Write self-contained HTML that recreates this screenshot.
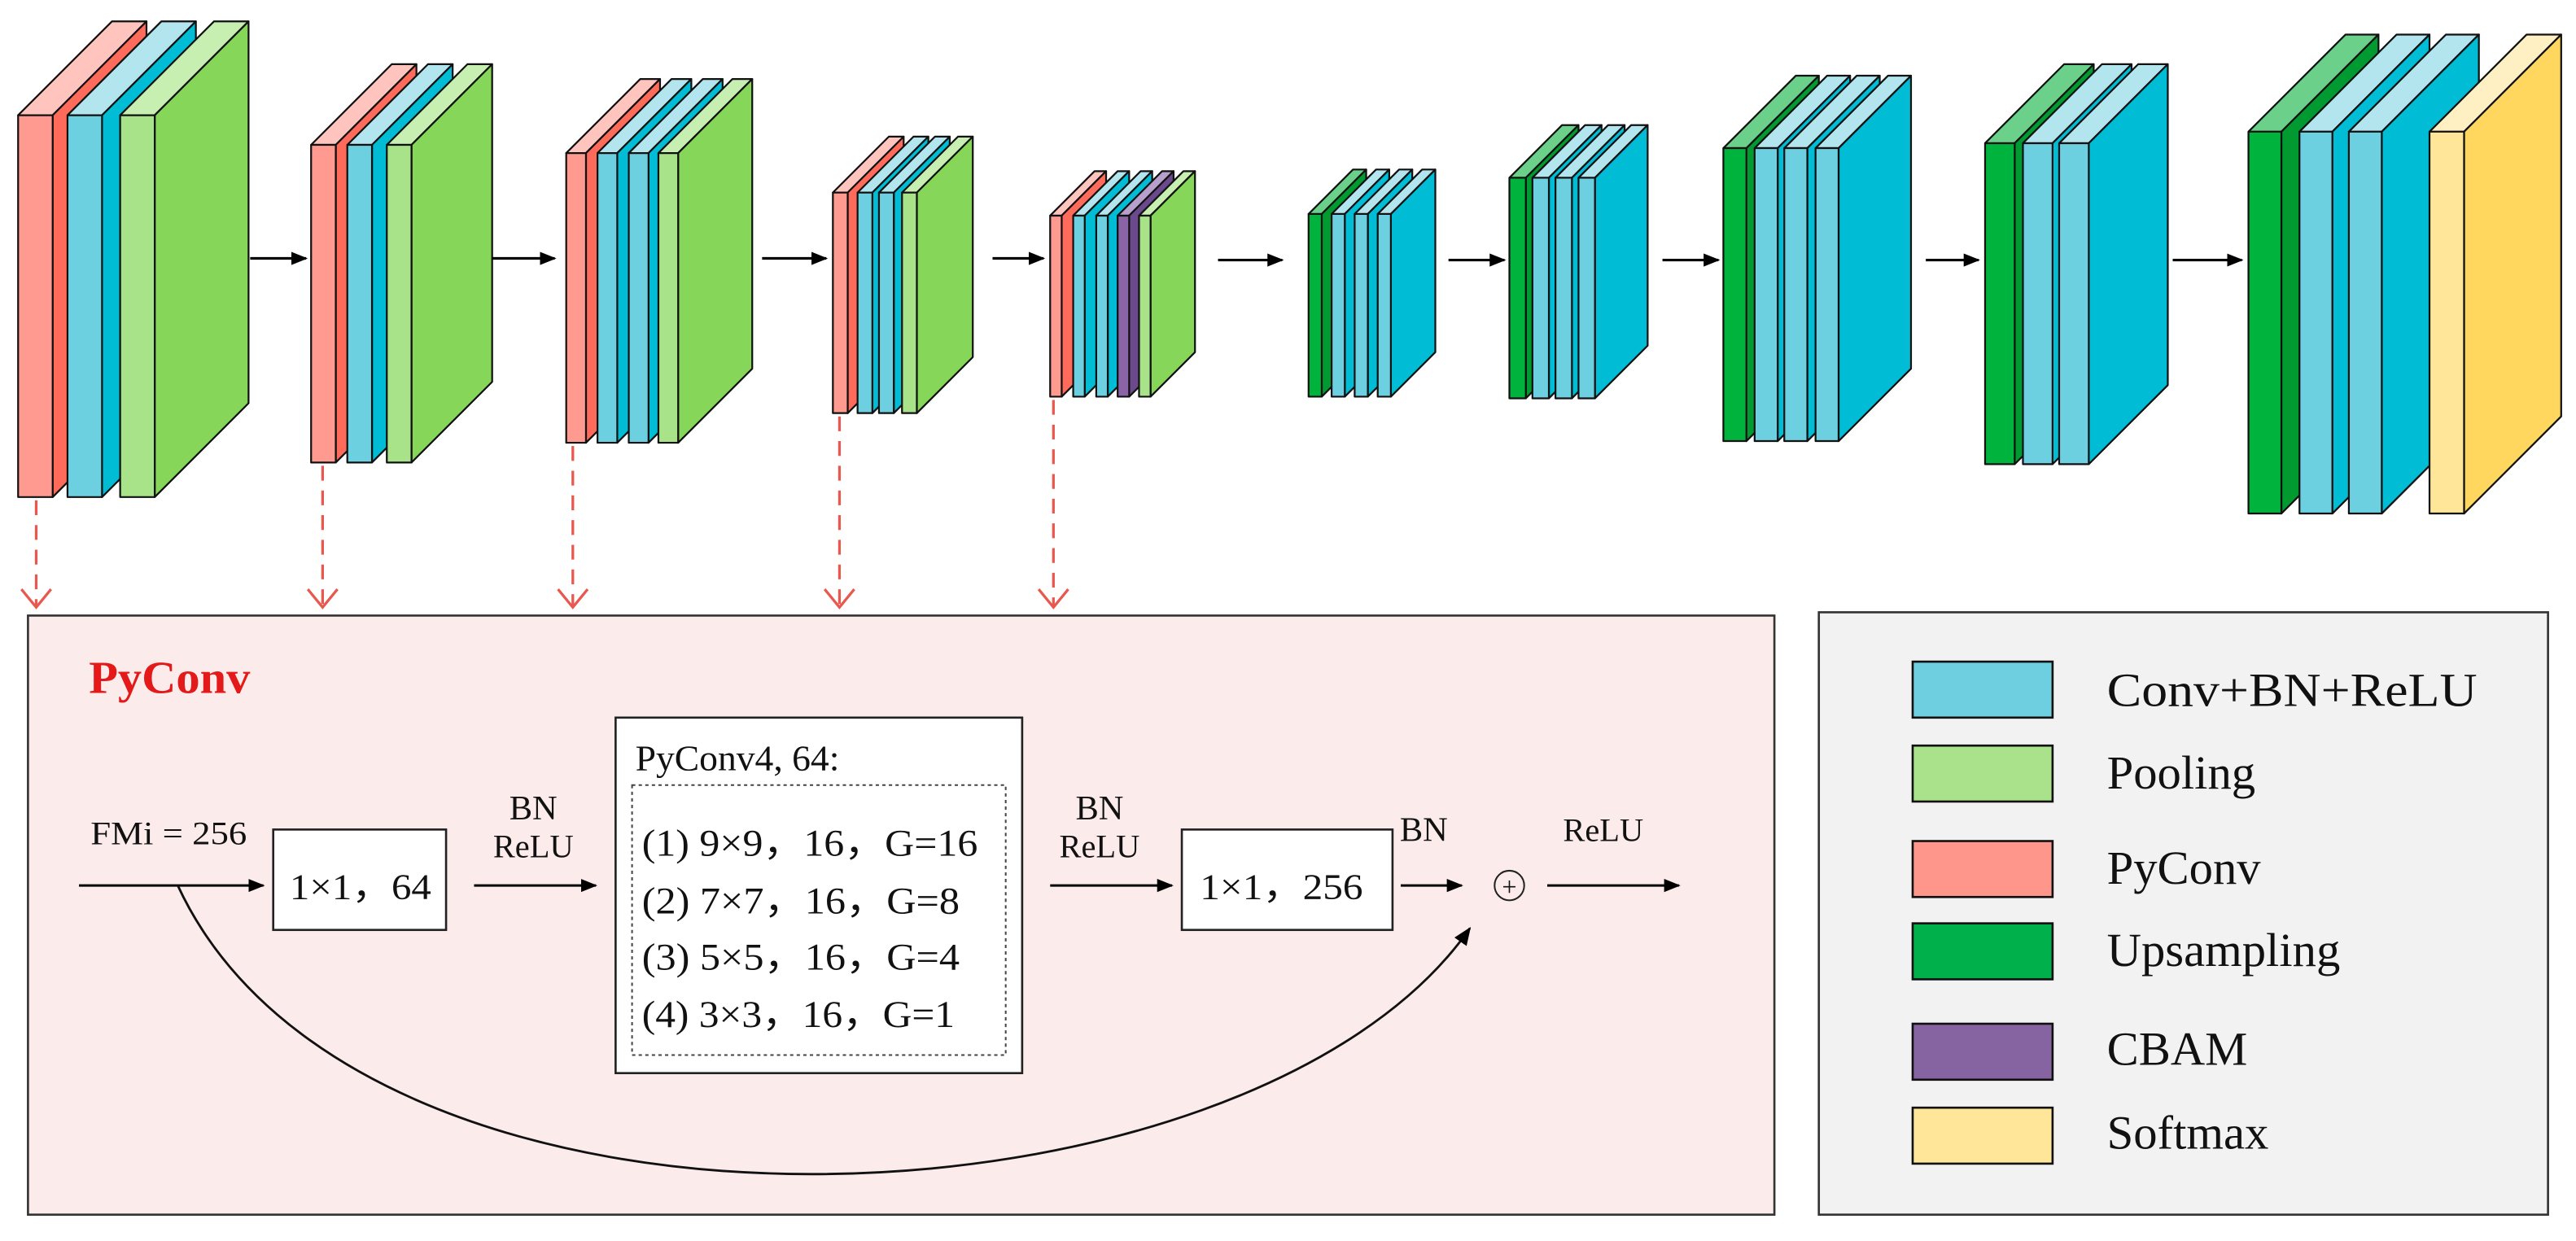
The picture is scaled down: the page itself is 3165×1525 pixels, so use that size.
<!DOCTYPE html>
<html><head><meta charset="utf-8"><style>
html,body{margin:0;padding:0;background:#fff;}
svg{display:block;}
text{font-family:"Liberation Serif",serif;fill:#111;}
</style></head><body>
<svg id="s" width="3165" height="1525" viewBox="0 0 1565 754" preserveAspectRatio="none" xmlns="http://www.w3.org/2000/svg">
<defs>
<marker id="ah" markerWidth="10" markerHeight="10" refX="9" refY="5" orient="auto" markerUnits="userSpaceOnUse">
<path d="M0,1 L10,5 L0,9 Z" fill="#000"/></marker>
<marker id="ah2" markerWidth="12" markerHeight="12" refX="10" refY="6" orient="auto" markerUnits="userSpaceOnUse">
<path d="M0,1.5 L11,6 L0,10.5 Z" fill="#000"/></marker>
</defs>
<g id="blocks"></g>
<g stroke="#000" stroke-width="1.6" marker-end="url(#ah)">
<line x1="152" y1="157" x2="186" y2="157"/>
<line x1="299" y1="157" x2="337" y2="157"/>
<line x1="463" y1="157" x2="502" y2="157"/>
<line x1="603" y1="157" x2="634" y2="157"/>
<line x1="740" y1="158" x2="779" y2="158"/>
<line x1="880" y1="158" x2="914" y2="158"/>
<line x1="1010" y1="158" x2="1044" y2="158"/>
<line x1="1170" y1="158" x2="1202" y2="158"/>
<line x1="1320" y1="158" x2="1362" y2="158"/>
</g>
<g stroke="#E8584E" stroke-width="1.6" fill="none">
<line x1="22" y1="304" x2="22" y2="368" stroke-dasharray="9,6"/>
<polyline points="13,358 22,369 31,358"/>
<line x1="196" y1="283" x2="196" y2="368" stroke-dasharray="9,6"/>
<polyline points="187,358 196,369 205,358"/>
<line x1="348" y1="271" x2="348" y2="368" stroke-dasharray="9,6"/>
<polyline points="339,358 348,369 357,358"/>
<line x1="510" y1="253" x2="510" y2="368" stroke-dasharray="9,6"/>
<polyline points="501,358 510,369 519,358"/>
<line x1="640" y1="243" x2="640" y2="368" stroke-dasharray="9,6"/>
<polyline points="631,358 640,369 649,358"/>
</g>
<rect x="17" y="374" width="1061" height="364" fill="#FBECEB" stroke="#333" stroke-width="1.3"/>
<text x="54" y="421" font-size="28" font-weight="bold" textLength="98" lengthAdjust="spacingAndGlyphs" style="fill:#E41A1A">PyConv</text>
<text x="55" y="513" font-size="20" textLength="95" lengthAdjust="spacingAndGlyphs">FMi = 256</text>
<line x1="48" y1="538" x2="160" y2="538" stroke="#000" stroke-width="1.5" marker-end="url(#ah)"/>
<rect x="166" y="504" width="105" height="61" fill="#fff" stroke="#222" stroke-width="1.3"/>
<text x="176" y="546" font-size="22" textLength="86" lengthAdjust="spacingAndGlyphs">1×1，64</text>
<text x="324" y="498" font-size="21" text-anchor="middle">BN</text>
<text x="324" y="521" font-size="20" text-anchor="middle">ReLU</text>
<line x1="288" y1="538" x2="362" y2="538" stroke="#000" stroke-width="1.5" marker-end="url(#ah)"/>
<rect x="374" y="436" width="247" height="216" fill="#fff" stroke="#222" stroke-width="1.3"/>
<text x="386" y="468" font-size="22" textLength="124" lengthAdjust="spacingAndGlyphs">PyConv4, 64:</text>
<rect x="384" y="477" width="227" height="164" fill="#fff" stroke="#444" stroke-width="1" stroke-dasharray="2,2"/>
<text x="390" y="520" font-size="23" textLength="204" lengthAdjust="spacingAndGlyphs">(1) 9×9，16，G=16</text>
<text x="390" y="555" font-size="23" textLength="193" lengthAdjust="spacingAndGlyphs">(2) 7×7，16，G=8</text>
<text x="390" y="589" font-size="23" textLength="193" lengthAdjust="spacingAndGlyphs">(3) 5×5，16，G=4</text>
<text x="390" y="624" font-size="23" textLength="190" lengthAdjust="spacingAndGlyphs">(4) 3×3，16，G=1</text>
<text x="668" y="498" font-size="21" text-anchor="middle">BN</text>
<text x="668" y="521" font-size="20" text-anchor="middle">ReLU</text>
<line x1="638" y1="538" x2="712" y2="538" stroke="#000" stroke-width="1.5" marker-end="url(#ah)"/>
<rect x="718" y="504" width="128" height="61" fill="#fff" stroke="#222" stroke-width="1.3"/>
<text x="729" y="546" font-size="22" textLength="99" lengthAdjust="spacingAndGlyphs">1×1，256</text>
<text x="865" y="511" font-size="21" text-anchor="middle">BN</text>
<line x1="851" y1="538" x2="888" y2="538" stroke="#000" stroke-width="1.5" marker-end="url(#ah)"/>
<circle cx="917" cy="538" r="9" fill="none" stroke="#222" stroke-width="1"/>
<text x="917" y="544" font-size="16" text-anchor="middle">+</text>
<text x="974" y="511" font-size="20" text-anchor="middle">ReLU</text>
<line x1="940" y1="538" x2="1020" y2="538" stroke="#000" stroke-width="1.5" marker-end="url(#ah)"/>
<path d="M108,538 C220,780 760,755 893,564" fill="none" stroke="#111" stroke-width="1.4" marker-end="url(#ah2)"/>
<rect x="1105" y="372" width="443" height="366" fill="#F2F2F2" stroke="#333" stroke-width="1.3"/>
<g stroke="#111" stroke-width="1.3">
<rect x="1162" y="402" width="85" height="34" fill="#6DCFDF"/>
<rect x="1162" y="453" width="85" height="34" fill="#A9E28A"/>
<rect x="1162" y="511" width="85" height="34" fill="#FF968C"/>
<rect x="1162" y="561" width="85" height="34" fill="#00B04A"/>
<rect x="1162" y="622" width="85" height="34" fill="#8664A2"/>
<rect x="1162" y="673" width="85" height="34" fill="#FFE699"/>
</g>
<g font-size="29">
<text x="1280" y="429" textLength="225" lengthAdjust="spacingAndGlyphs">Conv+BN+ReLU</text>
<text x="1280" y="479">Pooling</text>
<text x="1280" y="537">PyConv</text>
<text x="1280" y="587">Upsampling</text>
<text x="1280" y="647">CBAM</text>
<text x="1280" y="698">Softmax</text>
</g>
</svg>
<script>
(function(){
var C={
P:["#FF9A90","#FFC4BE","#FF6B5B"],
B:["#6DD0E0","#B3E5EF","#00BCD4"],
G:["#A8E38A","#C7EFB2","#86D65A"],
U:["#00B33C","#6BD08A","#009A30"],
M:["#8A64A6","#B8A0CC","#6A4A8C"],
Y:["#FFE699","#FFF0C4","#FFD75E"]};
var blocks=[
[70,302,57,21,[11,41,73],"PBG"],
[88,281,49,15,[189,211,235],"PBG"],
[93,269,45,12,[344,363,382,400],"PBBG"],
[117,251,34,9,[506,521,534,548],"PBBG"],
[131,241,27,7,[638,652,666,679,692],"PBBMG"],
[130,241,27,8,[795,809,823,837],"UBBB"],
[108,242,32,10,[917,931,945,959],"UBBB"],
[90,268,44,14,[1047,1066,1084,1103],"UBBB"],
[87,282,48,18,[1206,1229,1251],"UBB"],
[80,312,59,20,[1366,1397,1427,1476],"UBBY"]];
var s="";
function poly(p,f){return '<polygon points="'+p.join(" ")+'" fill="'+f+'" stroke="#111" stroke-width="1.1" stroke-linejoin="round"/>';}
blocks.forEach(function(b){
var t=b[0],bo=b[1],d=b[2],w=b[3];
b[4].forEach(function(x,i){
var c=C[b[5][i]];var ww=(b[5][i]=="Y")?21:w;
s+=poly([x+","+t,(x+d)+","+(t-d),(x+ww+d)+","+(t-d),(x+ww)+","+t],c[1]);
s+=poly([(x+ww)+","+t,(x+ww+d)+","+(t-d),(x+ww+d)+","+(bo-d),(x+ww)+","+bo],c[2]);
s+=poly([x+","+t,(x+ww)+","+t,(x+ww)+","+bo,x+","+bo],c[0]);
});});
document.getElementById("blocks").innerHTML=s;
})();
</script>
</body></html>
